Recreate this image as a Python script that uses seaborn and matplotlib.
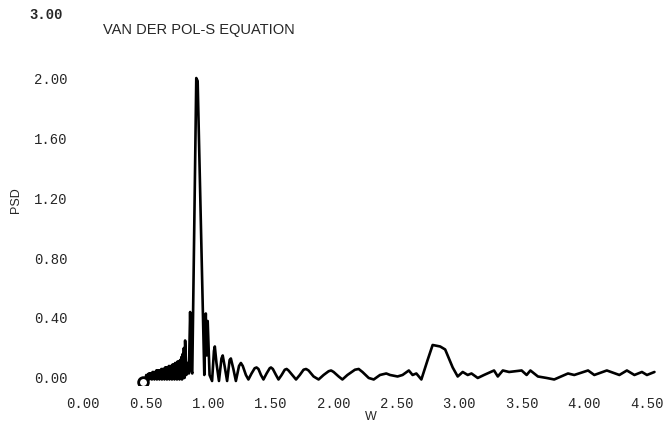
import pandas as pd
import matplotlib.pyplot as plt
import seaborn as sns

# frequency (W) and power spectral density
w = [0.48, 0.500, 0.505, 0.510, 0.515, 0.520, 0.525, 0.530, 0.535, 0.540,
     0.545, 0.550, 0.555, 0.560, 0.565, 0.570, 0.575, 0.580, 0.585, 0.590,
     0.595, 0.600, 0.605, 0.610, 0.615, 0.620, 0.625, 0.630, 0.635, 0.640,
     0.645, 0.650, 0.655, 0.660, 0.665, 0.670, 0.675, 0.680, 0.685, 0.690,
     0.695, 0.700, 0.705, 0.710, 0.715, 0.720, 0.725, 0.730, 0.735, 0.740,
     0.745, 0.750, 0.755, 0.760, 0.765, 0.770, 0.775, 0.780, 0.785, 0.790,
     0.795, 0.800, 0.805, 0.810, 0.815, 0.825, 0.835, 0.845, 0.855, 0.865,
     0.872, 0.904, 0.915, 0.968, 0.974, 0.980, 0.987, 0.995, 1.010, 1.030,
     1.045, 1.052, 1.065, 1.085, 1.105, 1.115, 1.130, 1.150, 1.170, 1.180,
     1.200, 1.220, 1.245, 1.260, 1.275, 1.300, 1.320, 1.345, 1.370, 1.385,
     1.400, 1.420, 1.440, 1.465, 1.490, 1.500, 1.515, 1.540, 1.560, 1.585,
     1.610, 1.625, 1.640, 1.670, 1.700, 1.730, 1.760, 1.780, 1.800, 1.840,
     1.880, 1.920, 1.960, 1.980, 2.000, 2.040, 2.070, 2.110, 2.170, 2.200,
     2.230, 2.280, 2.320, 2.370, 2.420, 2.450, 2.510, 2.550, 2.600, 2.630,
     2.660, 2.700, 2.750, 2.790, 2.820, 2.850, 2.890, 2.950, 2.990, 3.030,
     3.070, 3.100, 3.150, 3.200, 3.280, 3.310, 3.350, 3.400, 3.500, 3.540,
     3.570, 3.630, 3.700, 3.760, 3.870, 3.920, 4.030, 4.080, 4.180, 4.280,
     4.340, 4.400, 4.460, 4.500, 4.560]
psd = [-0.03, 0.00, 0.02, -0.01, 0.02, 0.00, 0.03, -0.01, 0.03, 0.00,
       0.03, -0.01, 0.04, 0.00, 0.04, -0.01, 0.04, 0.00, 0.05, -0.01,
       0.05, 0.00, 0.05, -0.01, 0.05, 0.00, 0.06, -0.01, 0.06, 0.00,
       0.06, -0.01, 0.07, 0.00, 0.07, -0.01, 0.07, 0.00, 0.08, -0.01,
       0.08, 0.00, 0.08, -0.01, 0.09, 0.00, 0.09, -0.01, 0.10, 0.00,
       0.10, -0.01, 0.11, 0.00, 0.11, -0.01, 0.12, 0.00, 0.14, -0.01,
       0.16, 0.00, 0.20, 0.00, 0.25, 0.02, 0.10, 0.03, 0.44, 0.05,
       0.03, 2.00, 1.98, 0.02, 0.30, 0.43, 0.15, 0.38, 0.02, -0.02,
       0.18, 0.21, 0.10, -0.02, 0.13, 0.15, 0.08, -0.02, 0.12, 0.13,
       0.06, -0.02, 0.08, 0.10, 0.08, 0.02, -0.01, 0.03, 0.065, 0.07,
       0.06, 0.02, -0.01, 0.03, 0.065, 0.07, 0.06, 0.02, -0.01, 0.02,
       0.055, 0.06, 0.05, 0.02, -0.01, 0.02, 0.055, 0.06, 0.05, 0.01,
       -0.01, 0.02, 0.045, 0.05, 0.04, 0.01, -0.01, 0.02, 0.055, 0.06,
       0.04, 0.00, -0.01, 0.02, 0.03, 0.02, 0.01, 0.02, 0.05, 0.02,
       0.03, -0.01, 0.12, 0.22, 0.215, 0.21, 0.19, 0.07, 0.01, 0.04,
       0.02, 0.03, 0.00, 0.02, 0.05, 0.01, 0.05, 0.04, 0.05, 0.02,
       0.05, 0.01, 0.00, -0.01, 0.03, 0.02, 0.05, 0.02, 0.05, 0.02,
       0.05, 0.02, 0.04, 0.02, 0.04]

x_ticks = [0.0, 0.5, 1.0, 1.5, 2.0, 2.5, 3.0, 3.5, 4.0, 4.5]
y_ticks = [0.0, 0.4, 0.8, 1.2, 1.6, 2.0]

df = pd.DataFrame({"W": w, "PSD": psd})

sns.set_style("white")
plt.rcParams["font.family"] = ["Liberation Mono", "DejaVu Sans Mono"]
# keep every sample so the dense band stays solid
plt.rcParams["path.simplify"] = False

fig = plt.figure(figsize=(6.66, 4.25), dpi=100)
ax = fig.add_axes([0.1246, 0.093, 0.8656, 0.741])

sns.lineplot(data=df, x="W", y="PSD", sort=False, estimator=None,
             color="black", linewidth=1.9, ax=ax)
# open circle at the start of the curve
ax.plot(df["W"][:1], df["PSD"][:1], "o", ms=7, mfc="white",
        mec="black", mew=2, zorder=5)

ax.set_xlim(0, 4.6)
ax.set_ylim(-0.05, 2.05)
ax.set_xticks(x_ticks)
ax.set_xticklabels([f"{v:.2f}" for v in x_ticks])
ax.set_yticks(y_ticks)
ax.set_yticklabels([f"{v:.2f}" for v in y_ticks])
ax.tick_params(axis="x", length=0, pad=8, labelsize=10)
ax.tick_params(axis="y", length=0, pad=11, labelsize=10)
ax.set_xlabel("W", fontsize=9, labelpad=0, family="Liberation Sans")
ax.set_ylabel("PSD", fontsize=9, labelpad=9, family="Liberation Sans")
ax.yaxis.label.set_y(0.59)
sns.despine(ax=ax, left=True, bottom=True)

fig.text(46 / 666, 1 - 15 / 425, "3.00", ha="center", va="center",
         fontsize=10, weight="bold")
fig.text(103 / 666, 1 - 30 / 425, "VAN DER POL-S EQUATION", ha="left",
         va="center", fontsize=10.5, family="Liberation Sans")

fig.savefig("out.png", dpi=100)
